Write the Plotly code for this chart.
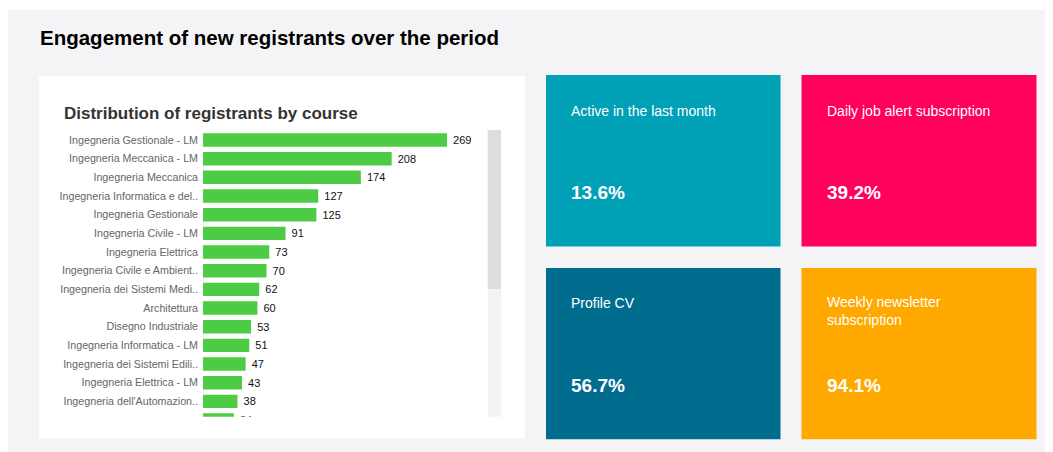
import plotly.graph_objects as go

# ---- data ----
courses = [
    "Ingegneria Gestionale - LM",
    "Ingegneria Meccanica - LM",
    "Ingegneria Meccanica",
    "Ingegneria Informatica e del..",
    "Ingegneria Gestionale",
    "Ingegneria Civile - LM",
    "Ingegneria Elettrica",
    "Ingegneria Civile e Ambient..",
    "Ingegneria dei Sistemi Medi..",
    "Architettura",
    "Disegno Industriale",
    "Ingegneria Informatica - LM",
    "Ingegneria dei Sistemi Edili..",
    "Ingegneria Elettrica - LM",
    "Ingegneria dell'Automazion..",
    "Ingegneria per l'Ambiente e..",
]
registrants = [269, 208, 174, 127, 125, 91, 73, 70, 62, 60, 53, 51, 47, 43, 38, 34]

kpi_labels = ["Active in the last month", "Daily job alert subscription",
              "Profile CV", "Weekly newsletter<br>subscription"]
kpi_values = ["13.6%", "39.2%", "56.7%", "94.1%"]
kpi_colors = ["#00A0B6", "#FF005B", "#006D8F", "#FFA800"]

# the page body has an 8px margin; work in page pixels and convert
OX, OY = 8, 8
W, H = 1045, 444
FONT = "Liberation Sans, Arial, Helvetica, sans-serif"


def px(x):
    return (x - OX) / W


def py(y):
    return 1 - (y - OY) / H


fig = go.Figure()
fig.add_trace(go.Bar(
    y=courses, x=registrants, orientation="h",
    marker=dict(color="#4ECB44", line=dict(width=0)),
    width=0.72,
    texttemplate="\u00a0%{x}",
    textposition="outside",
    textfont=dict(family=FONT, size=11, color="#111111"),
    cliponaxis=True,
    constraintext="none",
    hoverinfo="skip",
))

# plot area geometry (page pixels)
x_left, x_right = 203, 487
y_top, y_bot = 130, 416.7
scale = 244 / 269  # px per unit
row_h = 18.67
first_c = 140

fig.update_layout(
    width=W, height=H,
    margin=dict(l=0, r=0, t=0, b=0),
    paper_bgcolor="#F4F4F6",
    plot_bgcolor="rgba(0,0,0,0)",
    showlegend=False,
    xaxis=dict(
        domain=[px(x_left), px(x_right)],
        range=[0, (x_right - x_left) / scale],
        visible=False, fixedrange=True,
    ),
    yaxis=dict(
        domain=[py(y_bot), py(y_top)],
        type="category",
        categoryorder="array", categoryarray=courses,
        range=[(y_bot - first_c) / row_h, (y_top - first_c) / row_h],
        showgrid=False, zeroline=False, showline=False,
        ticks="", ticklabelstandoff=4,
        tickfont=dict(family=FONT, size=10.7, color="#666666"),
        fixedrange=True,
    ),
)

shapes = []
# white strip above the grey page area
shapes.append(dict(type="rect", xref="paper", yref="paper", layer="below",
                   x0=0, x1=1, y0=py(10), y1=1,
                   fillcolor="white", line=dict(width=0)))
# white chart card
shapes.append(dict(type="rect", xref="paper", yref="paper", layer="below",
                   x0=px(39), x1=px(525), y0=py(438.5), y1=py(76),
                   fillcolor="white", line=dict(width=0)))
# scrollbar track + thumb
shapes.append(dict(type="rect", xref="paper", yref="paper", layer="below",
                   x0=px(487.7), x1=px(501), y0=py(416.7), y1=py(130),
                   fillcolor="#F3F3F3", line=dict(width=0)))
shapes.append(dict(type="rect", xref="paper", yref="paper", layer="below",
                   x0=px(487.7), x1=px(501), y0=py(289), y1=py(130),
                   fillcolor="#DEDEDE", line=dict(width=0)))

# KPI cards
card_x = [(546, 780.5), (801.5, 1036.5)]
card_y = [(75, 246.5), (268, 439.3)]
label_y = [[111, 111], [303, 311]]
value_y = [[192, 192], [385, 385]]
annotations = []
for i in range(4):
    r, c = divmod(i, 2)
    x0, x1 = card_x[c]
    y0, y1 = card_y[r]
    shapes.append(dict(type="rect", xref="paper", yref="paper", layer="below",
                       x0=px(x0), x1=px(x1), y0=py(y1), y1=py(y0),
                       fillcolor=kpi_colors[i], line=dict(width=0)))
    annotations.append(dict(
        xref="paper", yref="paper", x=px(x0 + 23), y=py(label_y[r][c]),
        xanchor="left", yanchor="middle", align="left", showarrow=False,
        text=kpi_labels[i],
        font=dict(family=FONT, size=14, color="white"),
    ))
    annotations.append(dict(
        xref="paper", yref="paper", x=px(x0 + 23), y=py(value_y[r][c]),
        xanchor="left", yanchor="middle", align="left", showarrow=False,
        text="<b>" + kpi_values[i] + "</b>",
        font=dict(family=FONT, size=19, color="white"),
    ))

# titles
annotations.append(dict(
    xref="paper", yref="paper", x=px(38), y=py(37),
    xanchor="left", yanchor="middle", showarrow=False,
    text="<b>Engagement of new registrants over the period</b>",
    font=dict(family=FONT, size=20.5, color="#000000"),
))
annotations.append(dict(
    xref="paper", yref="paper", x=px(61.5), y=py(113),
    xanchor="left", yanchor="middle", showarrow=False,
    text="<b>Distribution of registrants by course</b>",
    font=dict(family=FONT, size=17, color="#333333"),
))

fig.update_layout(shapes=shapes, annotations=annotations)
fig.write_html("out.html", config={"displayModeBar": False})
